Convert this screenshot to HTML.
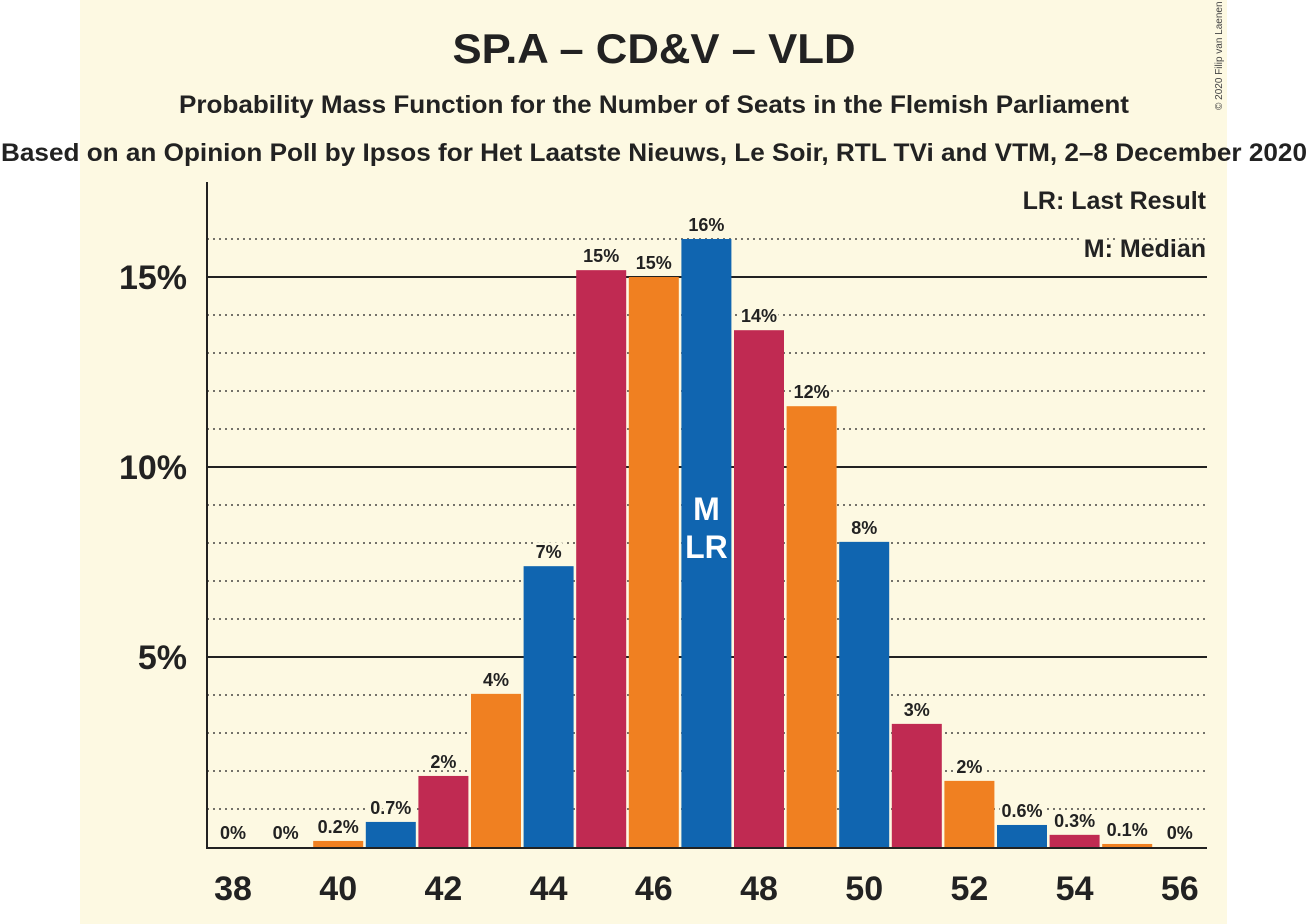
<!DOCTYPE html>
<html><head><meta charset="utf-8"><style>
body{margin:0;background:#fff;}
svg{display:block;font-family:"Liberation Sans",sans-serif;}
</style></head><body>
<svg id="chart" width="1308" height="924">
<rect x="80" y="0" width="1147" height="924" fill="#fdf9e2"/>
<text x="654" y="63" text-anchor="middle" font-size="42" font-weight="bold" fill="#222" textLength="403" lengthAdjust="spacingAndGlyphs">SP.A – CD&amp;V – VLD</text>
<text x="654" y="113" text-anchor="middle" font-size="25" font-weight="bold" fill="#222" textLength="950" lengthAdjust="spacingAndGlyphs">Probability Mass Function for the Number of Seats in the Flemish Parliament</text>
<text x="654" y="161" text-anchor="middle" font-size="25" font-weight="bold" fill="#222" textLength="1306" lengthAdjust="spacingAndGlyphs">Based on an Opinion Poll by Ipsos for Het Laatste Nieuws, Le Soir, RTL TVi and VTM, 2–8 December 2020</text>
<text transform="translate(1222,110) rotate(-90)" font-size="10" fill="#444">© 2020 Filip van Laenen</text>
<g id="grid"></g>
<g id="bars"></g>
<line x1="207" y1="182" x2="207" y2="849" stroke="#222" stroke-width="2"/>
<line x1="206" y1="848" x2="1207" y2="848" stroke="#222" stroke-width="2"/>
<g id="labels"></g>
<text x="1206" y="209" text-anchor="end" font-size="25" font-weight="bold" fill="#222" stroke="#fdf9e2" stroke-width="8" paint-order="stroke">LR: Last Result</text>
<text x="1206" y="257" text-anchor="end" font-size="25" font-weight="bold" fill="#222" stroke="#fdf9e2" stroke-width="8" paint-order="stroke">M: Median</text>
</svg>
<script>
const seats=[38,39,40,41,42,43,44,45,46,47,48,49,50,51,52,53,54,55,56];
const probs=[0,0,0.16,0.66,1.87,4.03,7.39,15.18,15.0,16.0,13.6,11.6,8.03,3.24,1.74,0.58,0.32,0.08,0];
const valueLabels=["0%","0%","0.2%","0.7%","2%","4%","7%","15%","15%","16%","14%","12%","8%","3%","2%","0.6%","0.3%","0.1%","0%"];
const yTicks=[5,10,15];
const yTickLabels=["5%","10%","15%"];
const xTicks=[38,40,42,44,46,48,50,52,54,56];
const medianSeat=47, lastResultSeat=47;
const colors=["#f08021","#1065b0","#c02a52"];
const NS="http://www.w3.org/2000/svg";
const svg=document.getElementById('chart');
const x=s=>233+(s-38)*52.6;
const y=p=>847-p*38;
function mk(tag,attrs,parent,text){const e=document.createElementNS(NS,tag);for(const k in attrs)e.setAttribute(k,attrs[k]);if(text!==undefined)e.textContent=text;parent.appendChild(e);return e;}
const grid=document.getElementById('grid'),bars=document.getElementById('bars'),labels=document.getElementById('labels');
for(let p=1;p<=16;p++){
  const solid=p%5===0;
  const l=mk('line',{x1:207,x2:1207,y1:y(p),y2:y(p),stroke:'#222','stroke-width':solid?2:1.3,'stroke-dasharray':solid?'':'2,4'},grid);
  
  
}
yTicks.forEach((t,i)=>{
  const e=mk('text',{x:187,y:y(t)+12,'text-anchor':'end','font-size':34,'font-weight':'bold',fill:'#222'},labels,yTickLabels[i]);
  
  
});
xTicks.forEach(t=>{
  const e=mk('text',{x:x(t),y:900,'text-anchor':'middle','font-size':34,'font-weight':'bold',fill:'#222'},labels,String(t));
  
  
});
seats.forEach((s,i)=>{
  const p=probs[i];
  if(p>0){
    const r=mk('rect',{x:x(s)-25,y:y(p),width:50,height:847-y(p),fill:colors[(s-40+300)%3]},bars);
    
    
  }
  const t=mk('text',{x:x(s),y:y(p)-8,'text-anchor':'middle','font-size':18,'font-weight':'bold',fill:'#222',stroke:'#fdf9e2','stroke-width':5,'paint-order':'stroke'},labels,valueLabels[i]);
  
  
});
const m=mk('text',{x:x(medianSeat),y:520,'text-anchor':'middle','font-size':32,'font-weight':'bold',fill:'#fff'},labels,'M');


const lr=mk('text',{x:x(lastResultSeat),y:558,'text-anchor':'middle','font-size':32,'font-weight':'bold',fill:'#fff'},labels,'LR');


</script>
</body></html>
